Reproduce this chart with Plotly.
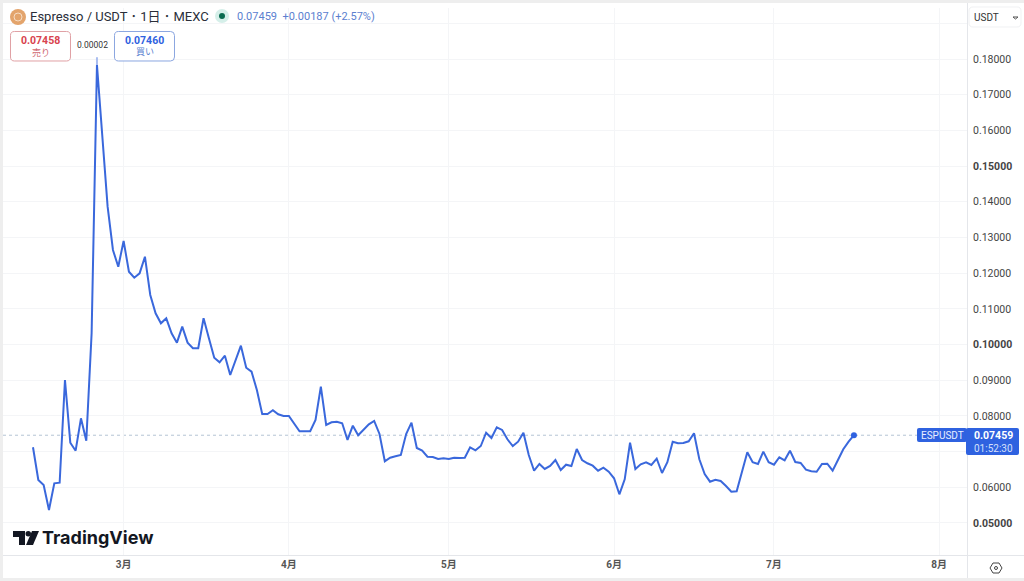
import pandas as pd
import plotly.graph_objects as go

FONT = "Roboto, 'Noto Sans CJK JP', sans-serif"

# daily closes, first candle 12 Feb
start_date = "2026-02-12"
close = [
    0.07121, 0.06205, 0.06065, 0.05364, 0.06112, 0.06129, 0.09007, 0.07250, 0.07026, 0.07933,
    0.07306, 0.10323, 0.17832, 0.15823, 0.13862, 0.12649, 0.12181, 0.12901, 0.12041, 0.11873,
    0.11996, 0.12461, 0.11388, 0.10875, 0.10595, 0.10735, 0.10315, 0.10052, 0.10500, 0.10052,
    0.09895, 0.09895, 0.10735, 0.10175, 0.09631, 0.09502, 0.09687, 0.09147, 0.09567, 0.09968,
    0.09351, 0.09239, 0.08726, 0.08054, 0.08054, 0.08158, 0.08045, 0.07998, 0.07998, 0.07774,
    0.07569, 0.07569, 0.07569, 0.07886, 0.08819, 0.07746, 0.07821, 0.07838, 0.07793, 0.07326,
    0.07726, 0.07457, 0.07625, 0.07765, 0.07858, 0.07494, 0.06729, 0.06830, 0.06869, 0.06905,
    0.07494, 0.07810, 0.07101, 0.07026, 0.06858, 0.06849, 0.06793, 0.06813, 0.06793, 0.06830,
    0.06821, 0.06830, 0.07121, 0.07037, 0.07157, 0.07530, 0.07382, 0.07681, 0.07606, 0.07345,
    0.07157, 0.07278, 0.07530, 0.06905, 0.06465, 0.06653, 0.06513, 0.06597, 0.06765, 0.06485,
    0.06633, 0.06597, 0.07073, 0.06765, 0.06673, 0.06605, 0.06465, 0.06550, 0.06437, 0.06252,
    0.05804, 0.06224, 0.07250, 0.06513, 0.06645, 0.06701, 0.06625, 0.06802, 0.06401, 0.06701,
    0.07278, 0.07233, 0.07241, 0.07289, 0.07513, 0.06785, 0.06373, 0.06157, 0.06213, 0.06177,
    0.06037, 0.05877, 0.05888, 0.06437, 0.06981, 0.06701, 0.06653, 0.06998, 0.06701, 0.06633,
    0.06841, 0.06757, 0.07026, 0.06709, 0.06681, 0.06493, 0.06449, 0.06437, 0.06653, 0.06661,
    0.06465, 0.06765, 0.07065, 0.07278, 0.07459,
]
peak_high = 0.18050
peak_index = 12

month_ticks = ["2026-03-01", "2026-04-01", "2026-05-01", "2026-06-01", "2026-07-01", "2026-08-01"]
month_labels = ["<b>3月</b>", "<b>4月</b>", "<b>5月</b>", "<b>6月</b>", "<b>7月</b>", "<b>8月</b>"]

price_ticks = [0.05, 0.06, 0.07, 0.08, 0.09, 0.10, 0.11, 0.12, 0.13, 0.14, 0.15, 0.16, 0.17, 0.18, 0.19]
price_labels = [
    "<b>0.05000</b>", "0.06000", "", "0.08000", "0.09000", "<b>0.10000</b>", "0.11000", "0.12000",
    "0.13000", "0.14000", "<b>0.15000</b>", "0.16000", "0.17000", "0.18000", "",
]

LINE = "#3a68dc"
BLUE = "#2f62e0"
RED = "#d8434e"
AXIS = "#e4e6ea"
GRID = "#f4f5f7"

# plot area in page pixels
L, R, T, B = 3, 967, 8, 555


def fx(px):
    return (px - L) / (R - L)


def fy(py):
    return (B - py) / (B - T)


def label(px, py, text, size=10, color="#333333", anchor="left", family=FONT):
    return dict(
        xref="paper", yref="paper", x=fx(px), y=fy(py), text=text, showarrow=False,
        xanchor=anchor, yanchor="middle", font=dict(family=family, size=size, color=color),
        borderpad=0,
    )


def box(x0, y0, x1, y1, fill="rgba(0,0,0,0)", line=None, kind="rect"):
    return dict(
        type=kind, xref="paper", yref="paper", x0=fx(x0), x1=fx(x1), y0=fy(y0), y1=fy(y1),
        fillcolor=fill, line=dict(color=line or "rgba(0,0,0,0)", width=1 if line else 0), layer="above",
    )


def poly(points, fill="rgba(0,0,0,0)", line=None, width=1):
    path = "M " + " L ".join(f"{fx(x):.5f},{fy(y):.5f}" for x, y in points) + " Z"
    return dict(
        type="path", xref="paper", yref="paper", path=path, fillcolor=fill,
        line=dict(color=line or "rgba(0,0,0,0)", width=width if line else 0), layer="above",
    )


def rounded(x0, y0, x1, y1, r, fill="white", line=None):
    p = lambda x, y: f"{fx(x):.5f},{fy(y):.5f}"
    path = (
        f"M {p(x0 + r, y0)} L {p(x1 - r, y0)} Q {p(x1, y0)} {p(x1, y0 + r)} "
        f"L {p(x1, y1 - r)} Q {p(x1, y1)} {p(x1 - r, y1)} "
        f"L {p(x0 + r, y1)} Q {p(x0, y1)} {p(x0, y1 - r)} "
        f"L {p(x0, y0 + r)} Q {p(x0, y0)} {p(x0 + r, y0)} Z"
    )
    return dict(
        type="path", xref="paper", yref="paper", path=path, fillcolor=fill,
        line=dict(color=line or "rgba(0,0,0,0)", width=1 if line else 0), layer="above",
    )


dates = pd.date_range(start_date, periods=len(close), freq="D")

fig = go.Figure()
fig.add_trace(go.Scatter(
    x=[dates[peak_index], dates[peak_index]], y=[close[peak_index], peak_high],
    mode="lines", line=dict(color="#a9bdf0", width=2), hoverinfo="skip",
))
fig.add_trace(go.Scatter(x=dates, y=close, mode="lines", line=dict(color=LINE, width=2)))
fig.add_trace(go.Scatter(
    x=dates[-1:], y=close[-1:], mode="markers", marker=dict(color=BLUE, size=6),
))

shapes = [
    # window edge
    box(0, 0, 3, 581, fill="#eeeeee"),
    box(0, 0, 1024, 3, fill="#eeeeee"),
    box(0, 578, 1024, 581, fill="#eeeeee"),
    # panel separators
    box(967, 3, 968, 578, fill=AXIS),
    box(3, 555, 1024, 556, fill=AXIS),
    # last price line
    dict(
        type="line", xref="paper", yref="y", x0=0, x1=1, y0=close[-1], y1=close[-1],
        line=dict(color="#b4c4d4", width=1, dash="dot"), layer="below",
    ),
    # symbol icon
    box(10, 9, 26, 25, fill="#e3a46c", kind="circle"),
    box(14, 13, 22, 21, fill="rgba(0,0,0,0)", line="#f6dcc4", kind="circle"),
    # market status dot
    box(215, 9, 229, 23, fill="#d5efe9", kind="circle"),
    box(219, 13, 225, 19, fill="#0b6b50", kind="circle"),
    # buy and sell buttons
    rounded(10.5, 31.5, 70.5, 61, 4, line="#e0a0a4"),
    rounded(114.5, 31.5, 174.5, 61, 4, line="#8ba6e0"),
    # currency button
    rounded(969, 7, 1021, 27, 4, line="#f0f1f3"),
    poly([(1013, 17), (1015.5, 19), (1018, 17)], line="#555555"),
    # last price tags
    rounded(917, 428, 967, 442, 2, fill=BLUE),
    rounded(966, 428, 1019, 455, 2, fill=BLUE),
    # TradingView mark
    poly([(13, 531), (25, 531), (25, 545), (19, 545), (19, 537), (13, 537)], fill="#131722"),
    box(25.5, 531, 31, 536.5, fill="#131722", kind="circle"),
    poly([(32, 531), (39, 531), (33, 545), (26, 545)], fill="#131722"),
    # settings hexagon
    poly([(990, 568), (993, 563), (999, 563), (1002, 568), (999, 573), (993, 573)], line="#444444"),
    box(994.5, 566.5, 997.5, 569.5, line="#444444", kind="circle"),
]

annotations = [
    label(29, 16.5, "Espresso / USDT ･ 1日 ･ MEXC", size=13, color="#2a2e39"),
    label(236, 16.5, "0.07459&nbsp; +0.00187 (+2.57%)", size=11, color="#5b80cf"),
    label(40.5, 40, "<b>0.07458</b>", size=10.5, color=RED, anchor="center"),
    label(40.5, 52, "売り", size=9, color="#d0686f", anchor="center"),
    label(144.5, 40, "<b>0.07460</b>", size=10.5, color=BLUE, anchor="center"),
    label(144.5, 52, "買い", size=9, color="#5b80cf", anchor="center"),
    label(92.5, 45, "0.00002", size=8.5, color="#333333", anchor="center"),
    label(41, 537.5, "<b>TradingView</b>", size=18, color="#131722", family="Inter, Roboto, sans-serif"),
    label(973, 17, "USDT", size=10, color="#333333"),
    label(942, 435, "ESPUSDT", size=10, color="#e8eeff", anchor="center"),
    label(973, 435, "<b>0.07459</b>", size=10.5, color="white"),
    label(973, 448, "01:52:30", size=10, color="#d5e0fb"),
]

fig.update_layout(
    width=1024,
    height=581,
    margin=dict(l=L, r=1024 - R, t=T, b=581 - B),
    paper_bgcolor="white",
    plot_bgcolor="white",
    showlegend=False,
    hovermode=False,
    font=dict(family=FONT, size=10, color="#333333"),
    shapes=shapes,
    annotations=annotations,
    xaxis=dict(
        type="date",
        range=["2026-02-06 09:00", "2026-08-06 05:00"],
        tickmode="array",
        tickvals=month_ticks,
        ticktext=month_labels,
        tickfont=dict(size=10, color="#555555"),
        tickangle=0,
        showgrid=True,
        gridcolor=GRID,
        gridwidth=1,
        zeroline=False,
        showline=False,
        ticks="",
        ticklabelstandoff=2,
    ),
    yaxis=dict(
        side="right",
        range=[0.04103, 0.19429],
        tickmode="array",
        tickvals=price_ticks,
        ticktext=price_labels,
        tickfont=dict(size=10.5, color="#444444"),
        showgrid=True,
        gridcolor=GRID,
        gridwidth=1,
        zeroline=False,
        showline=False,
        ticks="",
        ticklabelstandoff=5,
    ),
)

fig.write_html("out.html", post_script="document.body.style.margin='0';", config={"displayModeBar": False})
